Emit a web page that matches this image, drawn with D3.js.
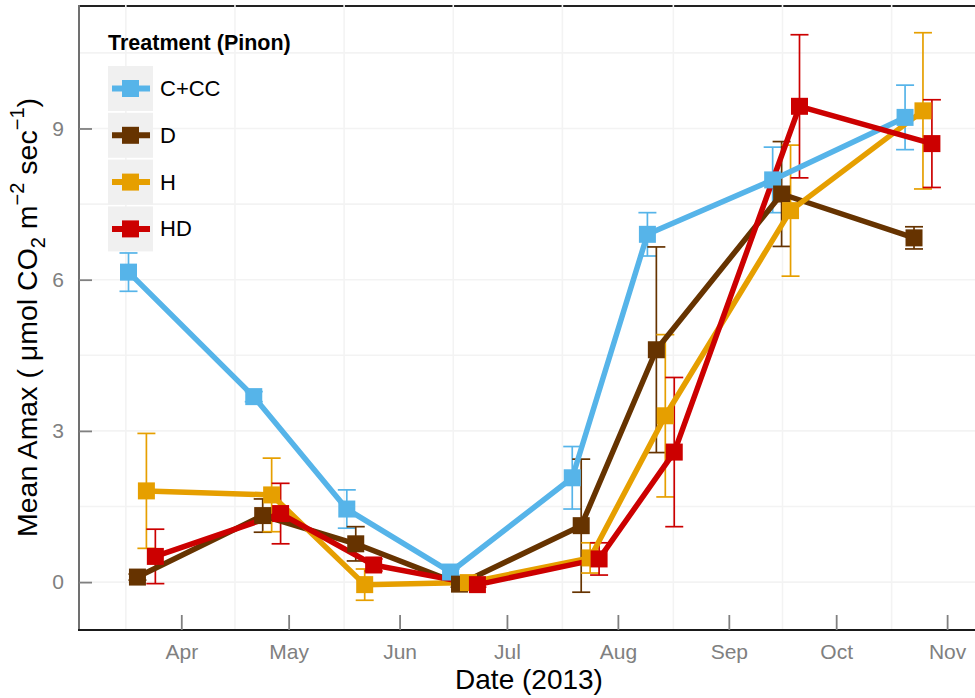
<!DOCTYPE html>
<html>
<head>
<meta charset="utf-8">
<script src="https://cdn.jsdelivr.net/npm/d3@7"></script>
<style>
  html, body { margin: 0; padding: 0; background: #ffffff; }
  svg { display: block; font-family: "Liberation Sans", Arial, Helvetica, sans-serif; }
</style>
</head>
<body>
<script>
// Sampling dates (2013) and per-treatment means / standard errors of Amax
const sampleDates = ["2013-03-21", "2013-04-25", "2013-05-21", "2013-06-19",
                     "2013-07-23", "2013-08-13", "2013-09-17", "2013-10-24"];
const treatments = ["C+CC", "D", "H", "HD"];
const meanCCC = [6.15, 3.68, 1.45, 0.20, 2.07, 6.90, 7.98, 9.22];
const seCCC   = [0.38, 0.10, 0.38, 0.06, 0.62, 0.43, 0.65, 0.64];
const meanD   = [0.10, 1.32, 0.76, -0.04, 1.12, 4.61, 7.70, 6.83];
const seD     = [0.06, 0.33, 0.34, 0.06, 1.32, 2.04, 1.04, 0.22];
const meanH   = [1.81, 1.73, -0.05, -0.01, 0.48, 3.30, 7.37, 9.35];
const seH     = [1.14, 0.73, 0.31, 0.05, 0.30, 1.61, 1.30, 1.55];
const meanHD  = [0.51, 1.36, 0.34, -0.05, 0.46, 2.58, 9.44, 8.70];
const seHD    = [0.54, 0.60, 0.12, 0.05, 0.32, 1.48, 1.42, 0.87];
const yTicks = [0, 3, 6, 9];
const monthLabels = ["Apr", "May", "Jun", "Jul", "Aug", "Sep", "Oct", "Nov"];

const colors = {"C+CC": "#56B4E9", "D": "#663300", "H": "#E69F00", "HD": "#CC0000"};
const seriesValues = {
  "C+CC": [meanCCC, seCCC], "D": [meanD, seD], "H": [meanH, seH], "HD": [meanHD, seHD]
};

const W = 975, H = 698;
const pLeft = 79, pRight = 975, pTop = 6, pBottom = 630;
const DAY = 864e5;
const dodgeDays = 10; // total dodge width in days, split across the four groups

const parse = d3.utcParse("%Y-%m-%d");
const dates = sampleDates.map(parse);

const x = d3.scaleUtc()
  .domain([new Date(Date.UTC(2013, 2, 3, 10)), new Date(Date.UTC(2013, 10, 8, 19))])
  .range([pLeft, pRight]);
const y = d3.scaleLinear().domain([-0.95, 11.43]).range([pBottom, pTop]);

const data = treatments.map((t, gi) => {
  const [m, s] = seriesValues[t];
  const off = (gi - (treatments.length - 1) / 2) * dodgeDays / treatments.length;
  return {
    key: t,
    pts: dates.map((d, i) => ({
      date: new Date(d.getTime() + off * DAY), mean: m[i], se: s[i]
    }))
  };
});

const svg = d3.select("body").append("svg").attr("width", W).attr("height", H);

// panel border lines
svg.append("line").attr("x1", pLeft).attr("x2", pRight).attr("y1", pTop).attr("y2", pTop)
  .attr("stroke", "#222").attr("stroke-width", 2);
svg.append("line").attr("x1", pLeft).attr("x2", pLeft).attr("y1", pTop - 1).attr("y2", pBottom)
  .attr("stroke", "#707070").attr("stroke-width", 2);

// grid: horizontal every 1.5 units, vertical at month midpoints
const grid = svg.append("g").attr("stroke", "#f3f3f3").attr("stroke-width", 1.6);
d3.range(0, 11.0, 1.5).forEach(v => {
  grid.append("line").attr("x1", pLeft + 1).attr("x2", pRight)
    .attr("y1", y(v)).attr("y2", y(v));
});
d3.utcMonth.range(new Date(Date.UTC(2013, 2, 1)), new Date(Date.UTC(2013, 10, 1))).forEach(m0 => {
  const m1 = d3.utcMonth.offset(m0, 1);
  const mid = new Date((m0.getTime() + m1.getTime()) / 2);
  grid.append("line").attr("x1", x(mid)).attr("x2", x(mid))
    .attr("y1", pTop - 1.5).attr("y2", pBottom - 1);
});

svg.append("line").attr("x1", pLeft - 1).attr("x2", pRight).attr("y1", pBottom).attr("y2", pBottom)
  .attr("stroke", "#1a1a1a").attr("stroke-width", 2.2);

// axes
const monthStarts = d3.utcMonth.range(new Date(Date.UTC(2013, 3, 1)), new Date(Date.UTC(2013, 10, 2)));
const xAxis = d3.axisBottom(x).tickValues(monthStarts)
  .tickFormat((d, i) => monthLabels[i]).tickSizeInner(-15).tickSizeOuter(0).tickPadding(14);
const gx = svg.append("g").attr("transform", `translate(0,${pBottom})`).call(xAxis);
gx.select(".domain").remove();
gx.selectAll(".tick line").attr("stroke", "#808080").attr("stroke-width", 1.8);
gx.selectAll(".tick text").attr("fill", "#808080").attr("font-size", 21)
  .attr("font-family", "Liberation Sans, Arial, sans-serif");

const yAxis = d3.axisLeft(y).tickValues(yTicks).tickFormat(d3.format("d"))
  .tickSizeInner(-13).tickSizeOuter(0).tickPadding(15);
const gy = svg.append("g").attr("transform", `translate(${pLeft},0)`).call(yAxis);
gy.select(".domain").remove();
gy.selectAll(".tick line").attr("stroke", "#808080").attr("stroke-width", 1.8);
gy.selectAll(".tick text").attr("fill", "#808080").attr("font-size", 21)
  .attr("font-family", "Liberation Sans, Arial, sans-serif");

// error bars
const capHalf = 9;
data.forEach(s => {
  const g = svg.append("g").attr("stroke", colors[s.key]).attr("stroke-width", 1.7).attr("fill", "none");
  s.pts.forEach(p => {
    const cx = x(p.date), y1 = y(p.mean + p.se), y2 = y(p.mean - p.se);
    g.append("line").attr("x1", cx).attr("x2", cx).attr("y1", y1).attr("y2", y2);
    g.append("line").attr("x1", cx - capHalf).attr("x2", cx + capHalf).attr("y1", y1).attr("y2", y1);
    g.append("line").attr("x1", cx - capHalf).attr("x2", cx + capHalf).attr("y1", y2).attr("y2", y2);
  });
});

// connecting lines
const line = d3.line().x(p => x(p.date)).y(p => y(p.mean));
data.forEach(s => {
  svg.append("path").datum(s.pts).attr("d", line)
    .attr("fill", "none").attr("stroke", colors[s.key]).attr("stroke-width", 5.5)
    .attr("stroke-linejoin", "round");
});

// square markers
const sq = 17;
data.forEach(s => {
  svg.append("g").selectAll("rect").data(s.pts).join("rect")
    .attr("x", p => x(p.date) - sq / 2).attr("y", p => y(p.mean) - sq / 2)
    .attr("width", sq).attr("height", sq).attr("fill", colors[s.key]);
});

// legend
const lg = svg.append("g");
lg.append("text").attr("x", 108).attr("y", 50).attr("font-size", 21.5).attr("font-weight", "bold")
  .attr("fill", "#000").text("Treatment (Pinon)");
treatments.forEach((t, i) => {
  const ky = 66 + i * 46.8;
  lg.append("rect").attr("x", 108).attr("y", ky).attr("width", 45).attr("height", 45).attr("fill", "#f0f0f0");
  lg.append("line").attr("x1", 112).attr("x2", 150).attr("y1", ky + 22.5).attr("y2", ky + 22.5)
    .attr("stroke", colors[t]).attr("stroke-width", 6);
  lg.append("rect").attr("x", 130.5 - sq / 2).attr("y", ky + 22.5 - sq / 2)
    .attr("width", sq).attr("height", sq).attr("fill", colors[t]);
  lg.append("text").attr("x", 160).attr("y", ky + 30).attr("font-size", 22).attr("fill", "#000").text(t);
});

// axis titles
svg.append("text").attr("x", 529).attr("y", 689).attr("text-anchor", "middle")
  .attr("font-size", 28).attr("fill", "#000").text("Date (2013)");

const yt = svg.append("text").attr("transform", "translate(37,317.5) rotate(-90)")
  .attr("text-anchor", "middle").attr("font-size", 28.5).attr("fill", "#000");
yt.append("tspan").text("Mean Amax ( \u03bcmol CO");
yt.append("tspan").attr("font-size", 20).attr("dy", 8).text("2");
yt.append("tspan").attr("dy", -8).text(" m");
yt.append("tspan").attr("font-size", 20).attr("dy", -13).text("\u22122");
yt.append("tspan").attr("dy", 13).text(" sec");
yt.append("tspan").attr("font-size", 20).attr("dy", -13).text("\u22121");
yt.append("tspan").attr("dy", 13).text(")");
</script>
</body>
</html>
